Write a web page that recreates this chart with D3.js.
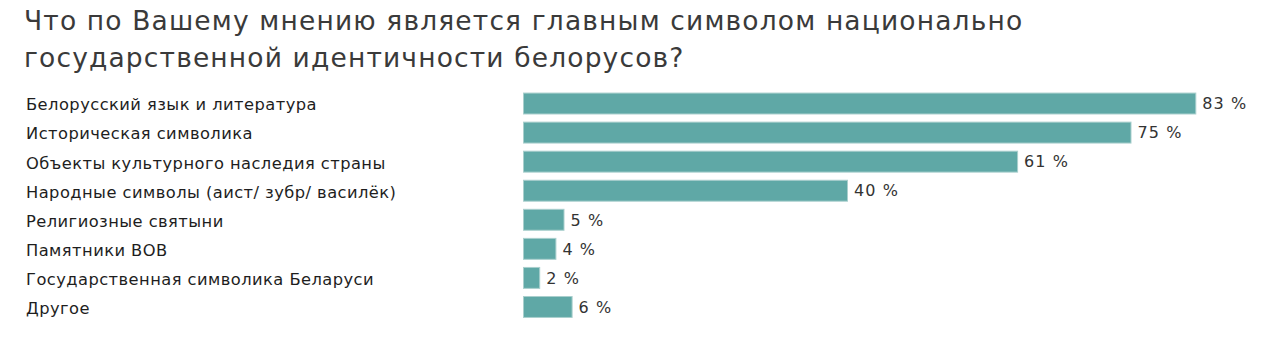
<!DOCTYPE html>
<html><head><meta charset="utf-8">
<script src="https://cdn.jsdelivr.net/npm/d3@7"></script>
<style>body{margin:0;background:#fff;} svg{display:block;}</style>
</head><body>
<svg id="chart" width="1280" height="357"></svg>
<script>
const titleLines = ["Что по Вашему мнению является главным символом национально", "государственной идентичности белорусов?"];
const categories = ["Белорусский язык и литература", "Историческая символика", "Объекты культурного наследия страны", "Народные символы (аист/ зубр/ василёк)", "Религиозные святыни", "Памятники ВОВ", "Государственная символика Беларуси", "Другое"];
const values = [83, 75, 61, 40, 5, 4, 2, 6];

const FONT = "DejaVu Sans, Verdana, sans-serif";
const svg = d3.select("#chart");
svg.append("rect").attr("width",1280).attr("height",357).attr("fill","#fff");

svg.append("g").selectAll("text").data(titleLines).join("text")
  .attr("x", 24).attr("y", (d,i)=> 29.5 + i*37)
  .attr("font-family", FONT)
  .attr("font-size", 26.5).attr("letter-spacing", 1.15)
  .attr("fill", "#3a3a3a").text(d=>d);

const x = d3.scaleLinear().domain([0,100]).range([523.5, 1333.5]);
const y = d3.scaleBand().domain(categories).range([89, 321.5]).paddingInner(0.28).paddingOuter(0.14);

svg.append("g").selectAll("rect").data(categories).join("rect")
  .attr("x", x(0)).attr("y", d=>y(d))
  .attr("width", (d,i)=>x(values[i])-x(0)).attr("height", y.bandwidth())
  .attr("fill", "#5fa8a6").attr("stroke", "#a9cfcd").attr("stroke-width", 1);

svg.append("g").selectAll("text").data(categories).join("text")
  .attr("x", 26).attr("y", d=>y(d)+y.bandwidth()/2)
  .attr("dy", "0.42em")
  .attr("font-family", FONT)
  .attr("font-size", 16.3).attr("letter-spacing", 0.45)
  .attr("fill", "#1e1e1e").text(d=>d);

svg.append("g").selectAll("text").data(categories).join("text")
  .attr("x", (d,i)=>x(values[i])+6.5).attr("y", d=>y(d)+y.bandwidth()/2)
  .attr("dy", "0.36em")
  .attr("font-family", FONT)
  .attr("font-size", 16).attr("letter-spacing", 1.1)
  .attr("fill", "#333").text((d,i)=>values[i] + " %");
</script>
</body></html>
